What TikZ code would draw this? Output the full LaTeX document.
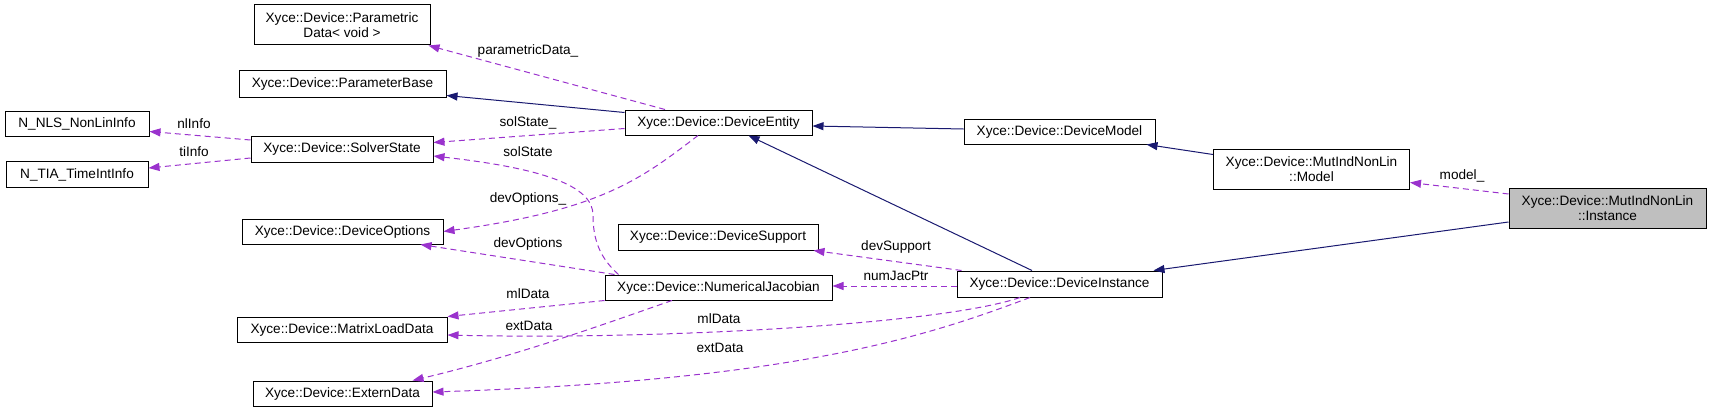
\documentclass[tikz,border=0pt]{standalone}
\usepackage{fontspec}
\setmainfont{Liberation Sans}
\usetikzlibrary{arrows.meta,calc}
\definecolor{navyedge}{HTML}{191970}
\definecolor{orchidedge}{HTML}{9A32CD}
\definecolor{graybox}{HTML}{BFBFBF}
\tikzset{
  cls/.style={draw=black, line width=1pt, fill=white, inner sep=0pt, align=center,
              font=\fontsize{13.6}{15}\selectfont},
  inh/.style={draw=navyedge, line width=1pt, -{Triangle[length=11pt,width=8pt]}},
  use/.style={draw=orchidedge, line width=1pt, dash pattern=on 6pt off 4pt,
              -{Triangle[length=11pt,width=8pt,fill=orchidedge]}},
  lbl/.style={inner sep=0pt, font=\fontsize{13.6}{15}\selectfont},
}
\begin{document}
\begin{tikzpicture}[x=1pt,y=-1pt]
\useasboundingbox (0,0) rectangle (1712,412);

% nodes
\node[cls, minimum width=176pt, minimum height=40pt] (pd) at (342,25) {Xyce::Device::Parametric\\Data< void >};
\node[cls, minimum width=207pt, minimum height=27pt] (pb) at (342.5,83.5) {Xyce::Device::ParameterBase};
\node[cls, minimum width=144pt, minimum height=25pt] (nls) at (77,124) {N\_NLS\_NonLinInfo};
\node[cls, minimum width=182pt, minimum height=26pt] (ss) at (342,149) {Xyce::Device::SolverState};
\node[cls, minimum width=142pt, minimum height=26pt] (tia) at (77,174.5) {N\_TIA\_TimeIntInfo};
\node[cls, minimum width=201pt, minimum height=25pt] (do) at (342.5,231.5) {Xyce::Device::DeviceOptions};
\node[cls, minimum width=210pt, minimum height=25pt] (mld) at (342,329.5) {Xyce::Device::MatrixLoadData};
\node[cls, minimum width=179pt, minimum height=25pt] (ed) at (342.5,393.5) {Xyce::Device::ExternData};
\node[cls, minimum width=187pt, minimum height=25pt] (de) at (718.5,122.5) {Xyce::Device::DeviceEntity};
\node[cls, minimum width=200pt, minimum height=26pt] (ds) at (718,237) {Xyce::Device::DeviceSupport};
\node[cls, minimum width=227pt, minimum height=25pt] (nj) at (718.5,287.5) {Xyce::Device::NumericalJacobian};
\node[cls, minimum width=191pt, minimum height=25pt] (dm) at (1059.5,131.5) {Xyce::Device::DeviceModel};
\node[cls, minimum width=205pt, minimum height=26pt] (di) at (1059.5,284) {Xyce::Device::DeviceInstance};
\node[cls, minimum width=196pt, minimum height=40pt] (mm) at (1311.5,169) {Xyce::Device::MutIndNonLin\\::Model};
\node[cls, fill=graybox, minimum width=197pt, minimum height=40pt] (mi) at (1607.5,208) {Xyce::Device::MutIndNonLin\\::Instance};

% inheritance
\draw[inh] ($(de.north west)+(0,3)$) -- ($(pb.south east)+(0,-2)$);
\draw[inh] ($(dm.west)+(0,-2.5)$) -- ($(de.east)+(0,3.5)$);
\draw[inh] ($(di.north)+(-27.5,0)$) -- ($(de.south)+(30,0)$);
\draw[inh] ($(mm.north west)+(0,6)$) -- ($(dm.south east)+(-9,0)$);
\draw[inh] ($(mi.south west)+(0,-6.5)$) -- ($(di.north east)+(-9,0)$);

% usage
\draw[use] ($(de.north)+(-53.5,0)$) -- ($(pd.south east)+(-2,0)$);
\node[lbl] (l1) at (528,51) {parametricData\_};
\draw[use] ($(de.south west)+(0,-7)$) -- ($(ss.east)+(0,-6.5)$);
\node[lbl] (l2) at (528,123) {solState\_};
\draw[use] ($(nj.north west)+(14,0)$) .. controls (600,258) and (593,240) .. (593,215)
   .. controls (593,185) and (540,168) .. ($(ss.east)+(0,7)$);
\node[lbl] (l3) at (528,152) {solState};
\draw[use] ($(de.south)+(-20.5,0)$) .. controls (640,180) and (600,210) .. (do.east);
\node[lbl] (l4) at (528,199) {devOptions\_};
\draw[use] ($(nj.north west)+(10,0)$) -- ($(do.south east)+(-23,0)$);
\node[lbl] (l5) at (528,244) {devOptions};
\draw[use] (nj.south west) -- (mld.north east);
\node[lbl] (l6) at (528,294) {mlData};
\draw[use] ($(nj.south)+(-46.5,0)$) .. controls (610,322) and (520,355) .. ($(ed.north east)+(-20,0)$);
\node[lbl] (l7) at (529,326) {extData};
\draw[use] ($(di.south)+(-39.5,0)$) .. controls (940,325) and (650,340) .. ($(mld.east)+(0,5.5)$);
\node[lbl] (l8) at (719,319) {mlData};
\draw[use] ($(di.south)+(-29.5,0)$) .. controls (930,335) and (800,380) .. ($(ed.east)+(0,-1.5)$);
\node[lbl] (l9) at (720,348) {extData};
\draw[use] ($(di.north west)+(5,0)$) -- ($(ds.south east)+(-5,0)$);
\node[lbl] (l10) at (896,247) {devSupport};
\draw[use] ($(di.west)+(0,2)$) -- ($(nj.east)+(0,-1.5)$);
\node[lbl] (l11) at (896,276) {numJacPtr};
\draw[use] ($(ss.west)+(0,-9)$) -- ($(nls.east)+(0,7.5)$);
\node[lbl] (l12) at (194,124) {nlInfo};
\draw[use] ($(ss.west)+(0,9)$) -- ($(tia.east)+(0,-6.5)$);
\node[lbl] (l13) at (194,152) {tiInfo};
\draw[use] ($(mi.west)+(0,-14)$) -- ($(mm.east)+(0,13.5)$);
\node[lbl] (l14) at (1462,176) {model\_};
\end{tikzpicture}
\end{document}
